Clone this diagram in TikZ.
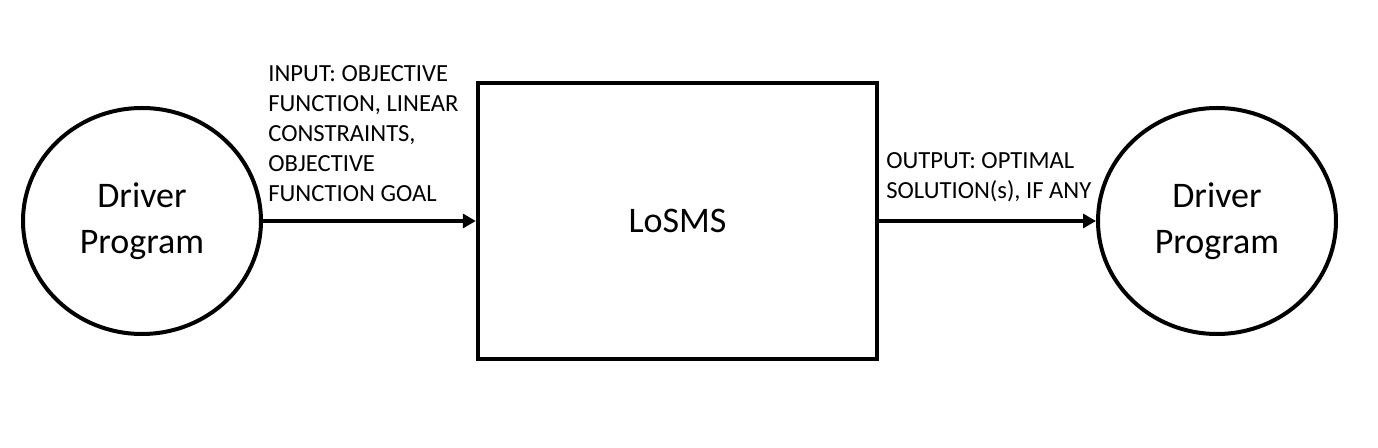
\documentclass[tikz,border=0pt]{standalone}
\usepackage{fontspec}
\setmainfont{Carlito}
\usetikzlibrary{shapes.geometric,arrows.meta}
\tikzset{
  driver/.style={ellipse, draw, line width=2pt, minimum width=119pt, minimum height=113pt, inner sep=0pt, align=center, font=\fontsize{18}{23}\selectfont},
  mainbox/.style={rectangle, draw, line width=2.2pt, minimum width=199.5pt, minimum height=138pt, font=\fontsize{18}{23}\selectfont},
  flow/.style={line width=2pt, -{Triangle[length=6.5pt, width=7pt]}},
  lbl/.style={anchor=north west, inner sep=0pt, align=left, font=\fontsize{12.3}{15}\selectfont}
}
\begin{document}
\begin{tikzpicture}[x=0.5pt, y=-0.5pt]
\useasboundingbox (0,0) rectangle (1378,448);
\node[driver] (left) at (142,221) {Driver\\Program};
\node[mainbox] (box) at (677.5,221) {LoSMS};
\node[driver] (right) at (1217,221) {Driver\\Program};
\draw[flow] (left.east) -- (box.west);
\draw[flow] (box.east) -- (right.west);
\node[lbl] (inlbl) at (268,65) {INPUT: OBJECTIVE\\FUNCTION, LINEAR\\CONSTRAINTS,\\OBJECTIVE\\FUNCTION GOAL};
\node[lbl] (outlbl) at (886,152) {OUTPUT: OPTIMAL\\SOLUTION(s), IF ANY};
\end{tikzpicture}
\end{document}
